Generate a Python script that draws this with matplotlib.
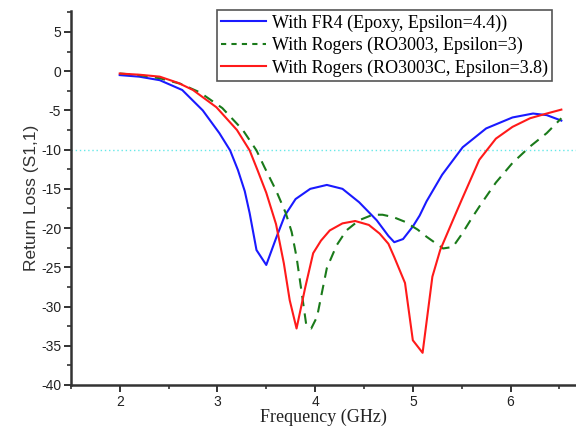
import matplotlib.pyplot as plt
from matplotlib.ticker import MultipleLocator

# Values (frequency in GHz, S11 in dB)
freq_fr4 = [2.0, 2.2, 2.41, 2.64, 2.85, 3.02, 3.13, 3.21, 3.28, 3.33, 3.4, 3.5, 3.6, 3.69, 3.8, 3.95,
            4.12, 4.28, 4.45, 4.63, 4.75, 4.81, 4.9, 5.0, 5.07, 5.14, 5.3, 5.51, 5.75, 6.02, 6.23, 6.37, 6.52]
s11_fr4 = [-0.5, -0.7, -1.15, -2.4, -5.0, -7.9, -10.1, -12.6, -15.3, -18.1, -22.8, -24.7, -21.3, -18.4, -16.3, -15.0,
           -14.5, -15.0, -16.7, -19.0, -21.0, -21.8, -21.4, -19.8, -18.4, -16.6, -13.2, -9.7, -7.3, -5.9, -5.4, -5.6, -6.3]

freq_ro3003 = [2.0, 2.2, 2.41, 2.62, 2.82, 3.05, 3.26, 3.4, 3.48, 3.6, 3.7, 3.76, 3.81, 3.86, 3.91, 3.96, 4.02,
               4.12, 4.22, 4.32, 4.45, 4.59, 4.69, 4.8, 4.92, 5.05, 5.14, 5.31, 5.41, 5.5, 5.61, 5.7, 5.85,
               6.02, 6.2, 6.37, 6.52]
s11_ro3003 = [-0.3, -0.5, -0.9, -1.6, -2.7, -4.7, -7.5, -10.1, -12.2, -15.2, -18.1, -20.5, -23.7, -28.0, -32.4, -32.8, -31.3,
              -25.1, -22.2, -20.3, -19.0, -18.3, -18.3, -18.6, -19.2, -20.2, -21.1, -22.6, -22.4, -20.8, -18.6, -16.9, -14.2,
              -11.7, -9.6, -7.9, -6.0]

freq_ro3003c = [2.0, 2.2, 2.41, 2.6, 2.75, 2.99, 3.2, 3.33, 3.41, 3.5, 3.6, 3.68, 3.74, 3.81, 3.9, 3.98, 4.06,
                4.15, 4.28, 4.41, 4.55, 4.66, 4.75, 4.81, 4.92, 5.0, 5.1, 5.2, 5.28, 5.41, 5.5, 5.68, 5.85,
                6.02, 6.2, 6.37, 6.52]
s11_ro3003c = [-0.3, -0.45, -0.7, -1.5, -2.4, -4.6, -7.5, -10.1, -12.6, -15.5, -19.5, -24.5, -29.2, -32.8, -27.5, -23.2, -21.6,
               -20.3, -19.4, -19.1, -19.6, -20.7, -22.0, -23.7, -27.0, -34.3, -35.9, -26.2, -22.8, -19.0, -16.4, -11.3, -8.6,
               -7.1, -6.0, -5.4, -4.9]

labels = ["With FR4 (Epoxy, Epsilon=4.4))",
          "With Rogers (RO3003, Epsilon=3)",
          "With Rogers (RO3003C, Epsilon=3.8)"]

plt.rcParams['axes.unicode_minus'] = False

fig = plt.figure(figsize=(5.76, 4.29), dpi=100)
ax = fig.add_axes([0.123, 0.1026, 0.877, 0.8714])

ax.axhline(-10, color='#66e8e8', linestyle=(0, (1, 2)), linewidth=1.0, zorder=1)

ax.plot(freq_fr4, s11_fr4, color='#1a1aff', linewidth=1.5, label=labels[0])
ax.plot(freq_ro3003, s11_ro3003, color='#1a7a1a', linewidth=1.5, linestyle=(0, (5, 3.5)), label=labels[1])
ax.plot(freq_ro3003c, s11_ro3003c, color='#ff1a1a', linewidth=1.5, label=labels[2])

ax.set_xlim(1.5, 6.67)
ax.set_ylim(-40, 7.65)
ax.set_xticks([2, 3, 4, 5, 6])
ax.xaxis.set_minor_locator(MultipleLocator(0.5))
ax.yaxis.set_major_locator(MultipleLocator(5))
ax.yaxis.set_minor_locator(MultipleLocator(2.5))

for side in ['top', 'right']:
    ax.spines[side].set_visible(False)
for side in ['left', 'bottom']:
    ax.spines[side].set_linewidth(1.8)
    ax.spines[side].set_color('#333333')

ax.tick_params(which='major', direction='out', length=5, width=1.4, color='#333333',
               labelsize=10, labelcolor='#222222', pad=2)
ax.tick_params(which='minor', direction='out', length=3, width=1.2, color='#333333')
for lab in ax.get_xticklabels() + ax.get_yticklabels():
    lab.set_fontfamily('Liberation Sans')

ax.set_xlabel('Frequency (GHz)', fontfamily='Liberation Serif', fontsize=13, color='#222222', labelpad=0)
ax.set_ylabel('Return Loss (S1,1)', fontfamily='Liberation Sans', fontsize=12.5, color='#333333', labelpad=1)

leg = ax.legend(loc='upper right', bbox_to_anchor=(0.953, 1.003),
                prop={'family': 'Liberation Serif', 'size': 13},
                frameon=True, fancybox=False, handlelength=2.5, handletextpad=0.3,
                borderpad=0.25, labelspacing=0.28, borderaxespad=0.0)
leg.get_frame().set_edgecolor('#555555')
leg.get_frame().set_linewidth(1.2)
leg.get_frame().set_alpha(1.0)
leg.get_lines()[1].set_linestyle((0, (2.5, 2.5)))

fig.savefig('out.png', dpi=100)
